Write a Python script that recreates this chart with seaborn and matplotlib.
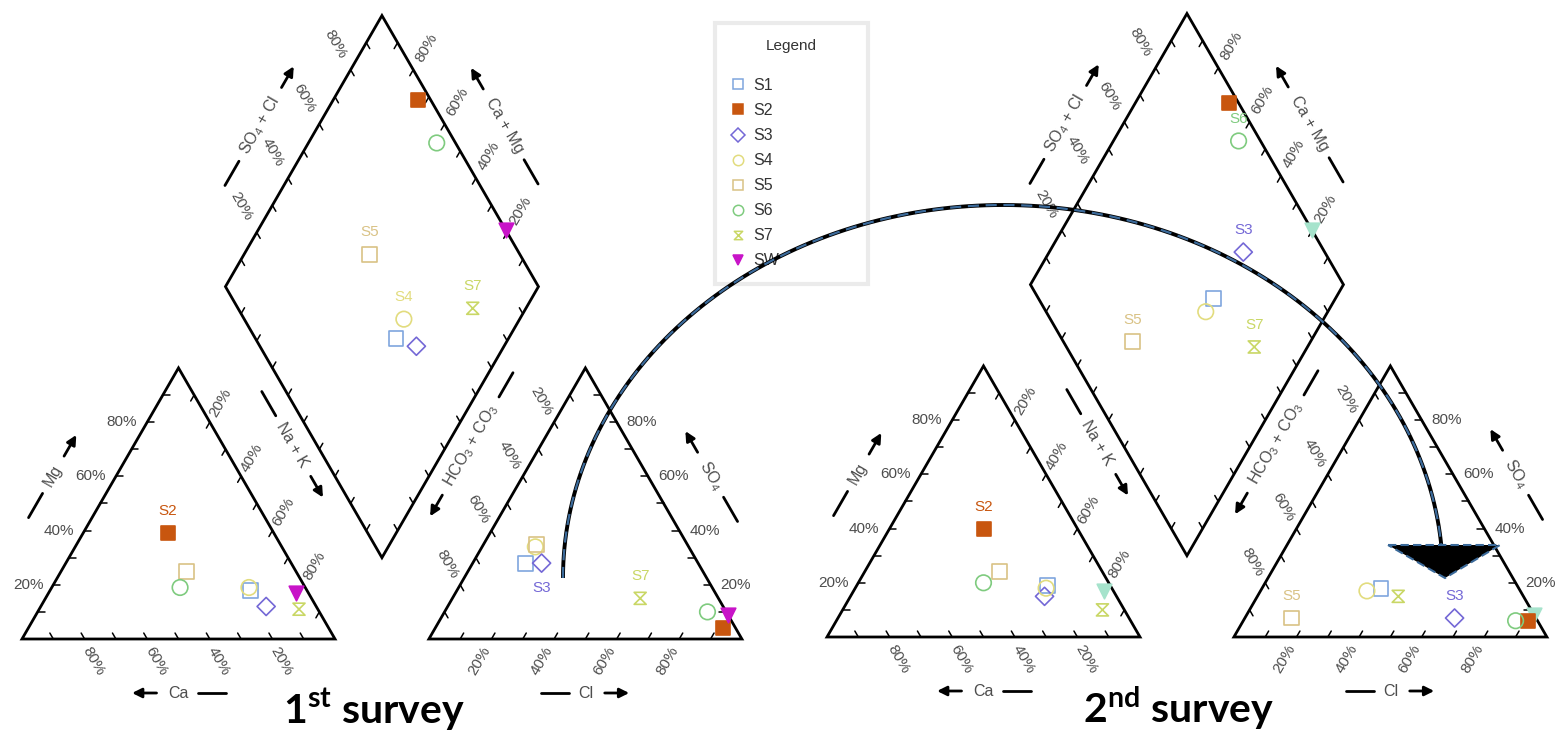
import numpy as np
import pandas as pd
import matplotlib
matplotlib.use("Agg")
import matplotlib.pyplot as plt
from matplotlib.path import Path
from matplotlib.lines import Line2D
from matplotlib.patches import Polygon
import seaborn as sns

# ---------------- data (percent) ----------------
samples = ["S1", "S2", "S3", "S4", "S5", "S6", "S7", "SW"]

# 1st survey
ca_1   = [18, 34, 16, 18, 35, 40,  6,  4]
mg_1   = [18, 39, 12, 19, 25, 19, 11, 17]
nak_1  = [64, 27, 72, 63, 40, 41, 83, 79]
cl_1   = [17, 92, 22, 17, 17, 84, 60, 91]
so4_1  = [28,  4, 28, 34, 35, 10, 15,  9]
hco3_1 = [55,  4, 50, 49, 48,  6, 25,  0]

# 2nd survey
ca_2   = [20, 30, 23, 21, 33, 40,  7,  3]
mg_2   = [19, 40, 15, 18, 24, 20, 10, 17]
nak_2  = [61, 30, 62, 61, 43, 40, 83, 80]
cl_2   = [38, 91, 67, 34, 15, 87, 45, 92]
so4_2  = [18,  6,  7, 17,  7,  6, 15,  8]
hco3_2 = [44,  3, 26, 49, 78,  7, 40,  0]

tick_values = [20, 40, 60, 80]
survey_titles = [r"1$^{\mathbf{st}}$ survey", r"2$^{\mathbf{nd}}$ survey"]

# sample labels drawn on the chart: (survey, panel, sample, above/below)
point_labels = [
    (0, "cation", "S2", "above"),
    (0, "diamond", "S5", "above"), (0, "diamond", "S4", "above"), (0, "diamond", "S7", "above"),
    (0, "anion", "S3", "below"), (0, "anion", "S7", "above"),
    (1, "cation", "S2", "above"),
    (1, "diamond", "S6", "above"), (1, "diamond", "S3", "above"),
    (1, "diamond", "S5", "above"), (1, "diamond", "S7", "above"),
    (1, "anion", "S5", "above"), (1, "anion", "S3", "above"),
]

# ---------------- styles ----------------
HOURGLASS = Path([(-1, 1), (1, 1), (-1, -1), (1, -1), (-1, 1)],
                 [Path.MOVETO, Path.LINETO, Path.LINETO, Path.LINETO, Path.CLOSEPOLY])
colors = {"S1": "#7fa6de", "S2": "#c8560f", "S3": "#7468d6", "S4": "#e2dc7e",
          "S5": "#d9c285", "S6": "#7fcb7f", "S7": "#c9d765", "SW": "#c814c8"}
sw_color_2 = "#a6e3cc"
markers = {"S1": "s", "S2": "s", "S3": "D", "S4": "o", "S5": "s",
           "S6": "o", "S7": HOURGLASS, "SW": "v"}
sizes = {"S1": 115, "S2": 115, "S3": 85, "S4": 125, "S5": 115,
         "S6": 125, "S7": 75, "SW": 110}
filled = {"S2", "SW"}

sns.set_theme(style="white")
plt.rcParams["font.family"] = ["Liberation Sans", "DejaVu Sans"]
plt.rcParams["mathtext.fontset"] = "custom"
plt.rcParams["mathtext.rm"] = "Liberation Sans"
plt.rcParams["mathtext.it"] = "Liberation Sans"
plt.rcParams["mathtext.bf"] = "Lato:bold"

# ---------------- geometry ----------------
S = 313.0
H = np.sqrt(3) / 2
G = 0.3
ORIGINS = [(22.0, 639.0), (827.0, 637.0)]
u = np.array([0.5, H])
v = np.array([-0.5, H])
C0, C1, C2 = np.array([0, 0.]), np.array([1, 0.]), np.array([0.5, H])
A0, A1, A2 = np.array([1 + G, 0.]), np.array([2 + G, 0.]), np.array([1.5 + G, H])
B = np.array([1 + G / 2, G * H])
L, R = B + v, B + u
T = B + u + v
GREY = "#4d4d4d"
TICK_FS = 11
TITLE_FS = 11.5


def px(o, pt):
    pt = np.asarray(pt, dtype=float)
    return np.array([o[0] + S * pt[0], o[1] - S * pt[1]])


def cation_xy(ca, mg, na):
    return np.array([na / 100 + mg / 200, mg / 100 * H])


def anion_xy(cl, so4, hco3):
    return np.array([1 + G + cl / 100 + so4 / 200, so4 / 100 * H])


def diamond_xy(na, hco3):
    a = 1 - hco3 / 100
    b = 1 - na / 100
    return B + a * u + b * v


fig = plt.figure(figsize=(15.63, 7.32), dpi=100)
ax = fig.add_axes([0, 0, 1, 1])
ax.set_xlim(0, 1563)
ax.set_ylim(732, 0)
ax.axis("off")
renderer = fig.canvas.get_renderer()


def axis_title(center, angle, text, arrow_at_end):
    c = np.asarray(center, dtype=float)
    d = np.array([np.cos(np.radians(angle)), -np.sin(np.radians(angle))])
    ax.text(c[0], c[1], text, rotation=angle, ha="center", va="center",
            rotation_mode="anchor", fontsize=TITLE_FS, color=GREY)
    tmp = ax.text(0, 0, text, fontsize=TITLE_FS)
    w = tmp.get_window_extent(renderer).width
    tmp.remove()
    h, gap, dl, al = w / 2, 9, 28, 30
    if arrow_at_end:
        p1, p0 = c - d * (h + gap), c - d * (h + gap + dl)
        q1, q0 = c + d * (h + gap), c + d * (h + gap + al)
        ax.plot([p0[0], p1[0]], [p0[1], p1[1]], color="black", lw=2)
        ax.annotate("", xy=q0, xytext=q1,
                    arrowprops=dict(arrowstyle="-|>", color="black", lw=2, mutation_scale=14))
    else:
        p1, p0 = c - d * (h + gap), c - d * (h + gap + al)
        q1, q0 = c + d * (h + gap), c + d * (h + gap + dl)
        ax.annotate("", xy=p0, xytext=p1,
                    arrowprops=dict(arrowstyle="-|>", color="black", lw=2, mutation_scale=14))
        ax.plot([q1[0], q0[0]], [q1[1], q0[1]], color="black", lw=2)


def draw_frame(o):
    for poly in ([C0, C1, C2], [A0, A1, A2], [B, R, T, L]):
        pts = np.array([px(o, p) for p in poly])
        ax.add_patch(Polygon(pts, closed=True, fill=False, edgecolor="black",
                             lw=2.0, joinstyle="miter", zorder=2))
    tick_edges = [(C0, C1, v), (C0, C2, np.array([1, 0.])), (C1, C2, -u),
                  (A0, A1, u), (A1, A2, np.array([-1, 0.])), (A0, A2, -v),
                  (B, L, u), (R, T, -u), (B, R, v), (L, T, -v)]
    for p_a, p_b, d in tick_edges:
        for t in np.arange(1, 10) / 10:
            p = p_a + t * (p_b - p_a)
            a, b = px(o, p), px(o, p + 0.022 * d)
            ax.plot([a[0], b[0]], [a[1], b[1]], color="black", lw=1.1, zorder=2)
    kw = dict(fontsize=TICK_FS, color=GREY, rotation_mode="anchor")
    for val in tick_values:
        f = val / 100
        lab = f"{val}%"
        p = px(o, C0 + f * (C2 - C0))
        ax.text(p[0] - 10, p[1], lab, ha="right", va="center", **kw)
        p = px(o, [1 - f, 0])
        ax.text(p[0] + 9, p[1] + 22, lab, ha="center", va="center", rotation=-60, **kw)
        p = px(o, C1 + (1 - f) * (C2 - C1))
        ax.text(p[0] + 11, p[1] - 19, lab, ha="center", va="center", rotation=60, **kw)
        p = px(o, A0 + f * (A1 - A0))
        ax.text(p[0] - 12, p[1] + 22, lab, ha="center", va="center", rotation=60, **kw)
        p = px(o, A1 + f * (A2 - A1))
        ax.text(p[0] + 10, p[1], lab, ha="left", va="center", **kw)
        p = px(o, A0 + (1 - f) * (A2 - A0))
        ax.text(p[0] - 13, p[1] - 21, lab, ha="center", va="center", rotation=-60, **kw)
        p = px(o, L + f * (T - L))
        ax.text(p[0] - 15, p[1] - 26, lab, ha="center", va="center", rotation=-60, **kw)
        p = px(o, R + f * (T - R))
        ax.text(p[0] + 13, p[1] - 22, lab, ha="center", va="center", rotation=60, **kw)

    def nrm(vec, dist):
        return np.array([vec[0] * dist, -vec[1] * dist])

    axis_title(px(o, [0.5, 0]) + [0, 54], 0, "Ca", False)
    axis_title(px(o, [1.5 + G, 0]) + [0, 54], 0, "Cl", True)
    axis_title(px(o, (C0 + C2) / 2) + nrm((-H, 0.5), 55), 60, "Mg", True)
    axis_title(px(o, (A1 + A2) / 2) + nrm((H, 0.5), 55), -60, r"SO$_4$", False)
    axis_title(px(o, (L + T) / 2) + nrm((-H, 0.5), 51), 60, r"SO$_4$ + Cl", True)
    axis_title(px(o, (R + T) / 2) + nrm((H, 0.5), 51), -60, "Ca + Mg", False)
    axis_title(px(o, B + 0.455 * v) + nrm((-H, -0.5), 21), -60, "Na + K", True)
    axis_title(px(o, B + 0.455 * u) + nrm((H, -0.5), 21), 60, r"HCO$_3$ + CO$_3$", False)


for o in ORIGINS:
    draw_frame(o)

# ---------------- points ----------------
surveys = [(ca_1, mg_1, nak_1, cl_1, so4_1, hco3_1), (ca_2, mg_2, nak_2, cl_2, so4_2, hco3_2)]
rows = []
for si, (ca, mg, na, cl, so4, hco3) in enumerate(surveys):
    o = ORIGINS[si]
    for i, name in enumerate(samples):
        for panel, pt in (("cation", cation_xy(ca[i], mg[i], na[i])),
                          ("anion", anion_xy(cl[i], so4[i], hco3[i])),
                          ("diamond", diamond_xy(na[i], hco3[i]))):
            x, y = px(o, pt)
            rows.append(dict(survey=si, sample=name, panel=panel, x=x, y=y))
df = pd.DataFrame(rows)

order = ["SW", "S1", "S2", "S3", "S4", "S5", "S6", "S7"]
for si in (0, 1):
    for name in (samples if si == 0 else order):
        grp = df[(df.survey == si) & (df["sample"] == name)]
        c = sw_color_2 if (si == 1 and name == "SW") else colors[name]
        sns.scatterplot(data=grp, x="x", y="y", ax=ax, marker=markers[name], s=sizes[name],
                        color=c, facecolor=(c if name in filled else "none"),
                        edgecolor=c, linewidth=1.2, legend=False, zorder=3)

for si, panel, name, where in point_labels:
    r = df[(df.survey == si) & (df.panel == panel) & (df["sample"] == name)].iloc[0]
    dy = -22 if where == "above" else 25
    ax.text(r.x, r.y + dy, name, color=colors[name], fontsize=11,
            ha="center", va="center", zorder=3)

# ---------------- legend ----------------
handles = [Line2D([], [], linestyle="none", marker=markers[n], markersize=7.5 if n != "S7" else 6,
                  markerfacecolor=(colors[n] if n in filled else "none"),
                  markeredgecolor=colors[n], markeredgewidth=1.1, label=n) for n in samples]
leg = ax.legend(handles=handles, title="Legend", loc="upper left",
                bbox_to_anchor=(715 / 1563, 1 - 23 / 732, (868 - 715) / 1563, 0),
                bbox_transform=fig.transFigure, mode="expand", frameon=True, fancybox=False,
                edgecolor="#e6e6e6", fontsize=11.5, title_fontsize=11,
                handlelength=0.9, handletextpad=0.5, labelspacing=0.63,
                borderpad=1.0, borderaxespad=0)
leg.get_frame().set_linewidth(3)
leg._legend_box.sep = 18
for t in leg.get_texts():
    t.set_color("#333333")
leg.get_title().set_color("#333333")

# ---------------- curved arrow between surveys ----------------
arc_center, arc_a, arc_b = (1003.0, 578.0), 440.0, 373.0
tt = np.linspace(np.pi, 0.089, 300)
arc_x = arc_center[0] + arc_a * np.cos(tt)
arc_y = arc_center[1] - arc_b * np.sin(tt)
ax.plot(arc_x, arc_y, color="black", lw=2.8, zorder=6, solid_capstyle="butt")
ax.plot(arc_x, arc_y, color="#3b6a9a", lw=1.6, ls=(0, (5, 3)), zorder=7)
head = np.array([[1388, 545], [1500, 545], [1445, 578]])
ax.add_patch(Polygon(head, closed=True, facecolor="black", edgecolor="#3b6a9a",
                     lw=1.5, ls=(0, (4, 2)), zorder=8))

# ---------------- survey titles ----------------
for o, title in zip(ORIGINS, survey_titles):
    ax.text(o[0] + 352, 723, title, fontsize=29.5, fontweight="bold", family="Lato",
            ha="center", va="baseline", color="black")

fig.savefig("out.png", dpi=100)
